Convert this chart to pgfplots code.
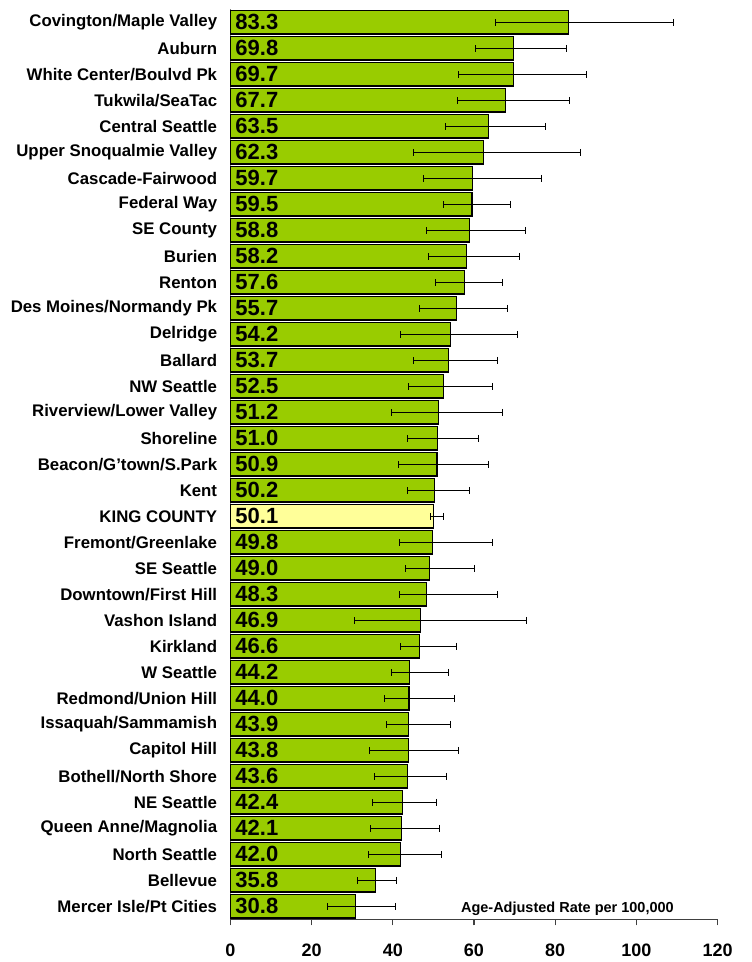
\documentclass[border=0pt]{standalone}
\usepackage{pgfplots}
\pgfplotsset{compat=1.18}
\usepackage{pgfplotstable}
\usepackage{fontspec}
\setmainfont{Liberation Sans}
\definecolor{barg}{RGB}{153,204,0}
\definecolor{kcy}{RGB}{255,255,153}

\pgfplotstableread{
y val ep em lbl
0 83.3 25.8 18.1 83.3
1 69.8 13.0 9.4 69.8
2 69.7 18.0 13.4 69.7
3 67.7 15.9 11.7 67.7
4 63.5 14.0 10.4 63.5
5 62.3 23.8 17.2 62.3
6 59.7 17.0 12.2 59.7
7 59.5 9.4 6.9 59.5
8 58.8 13.9 10.4 58.8
9 58.2 13.1 9.4 58.2
10 57.6 9.5 7.2 57.6
11 55.7 12.5 9.2 55.7
12 54.2 16.5 12.2 54.2
13 53.7 12.1 8.6 53.7
14 52.5 12.1 8.6 52.5
15 51.2 15.8 11.5 51.2
16 51.0 10.1 7.3 51.0
17 50.9 12.6 9.4 50.9
18 50.2 8.8 6.5 50.2
20 49.8 14.8 8.1 49.8
21 49.0 11.2 5.9 49.0
22 48.3 17.5 6.6 48.3
23 46.9 26.1 16.4 46.9
24 46.6 9.1 4.7 46.6
25 44.2 9.6 4.5 44.2
26 44.0 11.2 6.0 44.0
27 43.9 10.4 5.4 43.9
28 43.8 12.5 9.6 43.8
29 43.6 9.7 8.2 43.6
30 42.4 8.4 7.4 42.4
31 42.1 9.3 7.5 42.1
32 42.0 9.9 8.0 42.0
33 35.8 5.2 4.5 35.8
34 30.8 9.9 6.9 30.8
}\greendata

\pgfplotstableread{
y val ep em lbl
19 50.1 2.3 0.8 50.1
}\kcdata

\begin{document}
\begin{tikzpicture}
\path[use as bounding box] (-230.3pt,-42.7pt) rectangle (521.7pt,919.3pt);
\begin{axis}[
  at={(0pt,0pt)}, anchor=south west,
  scale only axis,
  width=487.4pt, height=910pt,
  xmin=0, xmax=120,
  ymin=-0.5, ymax=34.5,
  y dir=reverse,
  clip=false,
  separate axis lines,
  axis x line*=bottom,
  axis y line*=left,
  x axis line style={black!75, line width=1.1pt},
  y axis line style={black!50, line width=1.1pt},
  xtick={0,20,...,120},
  ytick={0,...,34},
  yticklabels={Covington/Maple Valley,Auburn,White Center/Boulvd Pk,Tukwila/SeaTac,Central Seattle,Upper Snoqualmie Valley,Cascade-Fairwood,Federal Way,SE County,Burien,Renton,Des Moines/Normandy Pk,Delridge,Ballard,NW Seattle,Riverview/Lower Valley,Shoreline,{Beacon/G'town/S.Park},Kent,KING COUNTY,Fremont/Greenlake,SE Seattle,Downtown/First Hill,Vashon Island,Kirkland,W Seattle,Redmond/Union Hill,Issaquah/Sammamish,Capitol Hill,Bothell/North Shore,NE Seattle,Queen Anne/Magnolia,North Seattle,Bellevue,Mercer Isle/Pt Cities},
  tick align=outside,
  xtick style={black!75, line width=1.1pt},
  ytick style={draw=none},
  major tick length=6pt,
  /pgf/number format/assume math mode=true,
  xticklabel style={font=\fontsize{18}{18}\selectfont\bfseries, anchor=north, inner sep=0pt, yshift=-18pt},
  yticklabel style={font=\fontsize{16.8}{16.8}\selectfont\bfseries, anchor=east, inner sep=0pt, xshift=-7pt},
]
\addplot[xbar, bar shift=0pt, bar width=0.9, fill=barg, draw=black, line width=1.1pt,
  error bars/.cd, x dir=both, x explicit, error mark=|,
  error bar style={line width=1pt, black},
  error mark options={line width=1pt, mark size=3.5pt, black}]
  table[x=val, y=y, x error plus=ep, x error minus=em]{\greendata};
\addplot[xbar, bar shift=0pt, bar width=0.9, fill=kcy, draw=black, line width=1.1pt,
  error bars/.cd, x dir=both, x explicit, error mark=|,
  error bar style={line width=1pt, black},
  error mark options={line width=1pt, mark size=3.5pt, black}]
  table[x=val, y=y, x error plus=ep, x error minus=em]{\kcdata};
\addplot[draw=none, mark=none, nodes near coords, point meta=explicit symbolic,
  nodes near coords style={anchor=west, inner sep=0pt, xshift=5pt, font=\fontsize{22}{22}\selectfont\bfseries, text=black}]
  table[x expr=0, y=y, meta=lbl]{\greendata};
\addplot[draw=none, mark=none, nodes near coords, point meta=explicit symbolic,
  nodes near coords style={anchor=west, inner sep=0pt, xshift=5pt, font=\fontsize{22}{22}\selectfont\bfseries, text=black}]
  table[x expr=0, y=y, meta=lbl]{\kcdata};
\node[font=\fontsize{14.5}{14.5}\selectfont\bfseries, inner sep=0pt] at (axis cs:83,34.1) {Age-Adjusted Rate per 100,000};
\end{axis}
\end{tikzpicture}
\end{document}
